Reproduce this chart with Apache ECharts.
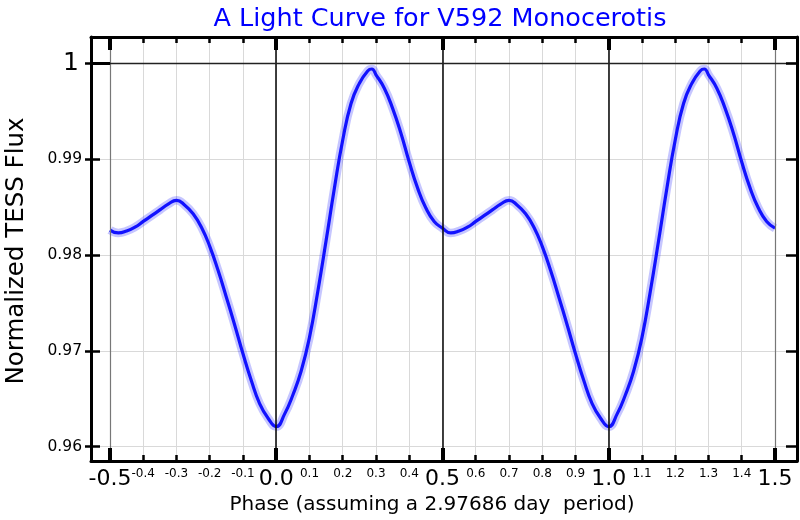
<!DOCTYPE html>
<html><head><meta charset="utf-8">
<script src="https://cdn.jsdelivr.net/npm/echarts@6/dist/echarts.min.js"></script>
<style>html,body{margin:0;padding:0;background:#fff}#c{width:800px;height:520px}</style>
</head><body><div id="c"></div>
<script>
// one folded cycle of the light curve (phase, normalized flux)
const phases = [-0.5,-0.475,-0.45,-0.425,-0.4,-0.375,-0.35,-0.325,-0.3,-0.275,-0.25,-0.225,-0.2,-0.175,-0.15,-0.125,-0.1,-0.075,-0.05,-0.025,0,0.025,0.05,0.075,0.1,0.125,0.15,0.175,0.2,0.225,0.25,0.275,0.2875,0.3,0.325,0.35,0.375,0.4,0.425,0.45,0.475,0.5];
const flux = [0.9826,0.9823,0.9825,0.9829,0.9835,0.9841,0.9847,0.9853,0.9857,0.9852,0.9843,0.9829,0.9809,0.9784,0.9756,0.9727,0.9697,0.9669,0.9645,0.9630,0.9621,0.9634,0.9654,0.9679,0.9714,0.9762,0.9815,0.9870,0.9920,0.9958,0.9979,0.9992,0.9994,0.9988,0.9974,0.9953,0.9927,0.9897,0.9870,0.9849,0.9835,0.9828];
// the plot repeats the folded cycle shifted by whole periods
const cycleOffsets = [0, 1];
const majorXTicks = [-0.5, 0, 0.5, 1, 1.5];
const minorXTicks = [-0.4,-0.3,-0.2,-0.1,0.1,0.2,0.3,0.4,0.6,0.7,0.8,0.9,1.1,1.2,1.3,1.4];
const allXTicks = [-0.5,-0.4,-0.3,-0.2,-0.1,0,0.1,0.2,0.3,0.4,0.5,0.6,0.7,0.8,0.9,1,1.1,1.2,1.3,1.4,1.5];
const yTicks = [0.96, 0.97, 0.98, 0.99, 1];
const yMinorTicks = [0.96, 0.97, 0.98, 0.99];
const yMajorTicks = [1];
const darkXLines = [0, 0.5, 1];
const edgeXLines = [-0.5, 1.5];
const darkYLines = [1];
const titleText = 'A Light Curve for V592 Monocerotis';
const xName = 'Phase (assuming a 2.97686 day  period)';
const yName = 'Normalized TESS Flux';

const XMIN = -0.5571, XMAX = 1.5662, YMIN = 0.95851, YMAX = 1.00274;
const FONT = 'DejaVu Sans';

const curve = [];
cycleOffsets.forEach((off, k) => {
  phases.forEach((p, i) => {
    if (k > 0 && i === 0) return;
    curve.push([Math.round((p + off) * 10000) / 10000, flux[i]]);
  });
});

function xAx(pos, ticks, len, w, label, fs, margin, split, line, z) {
  return {
    type: 'value', position: pos, min: XMIN, max: XMAX, z: z,
    axisLine: { show: line, onZero: false, lineStyle: { color: '#000', width: 3 } },
    axisTick: { show: len > 0, inside: true, length: len, customValues: ticks, lineStyle: { color: '#000', width: w } },
    axisLabel: { show: label, customValues: ticks, fontSize: fs, fontFamily: FONT, color: '#000', margin: margin,
      formatter: v => (Math.round(v * 10) / 10).toFixed(1) },
    splitLine: { show: split, lineStyle: { color: '#d9d9d9', width: 1 } }
  };
}
function yAx(pos, ticks, len, w, inside, line) {
  return {
    type: 'value', position: pos, min: YMIN, max: YMAX, z: 10,
    axisLine: { show: line, onZero: false, lineStyle: { color: '#000', width: 3 } },
    axisTick: { show: true, inside: inside, length: len, customValues: ticks, lineStyle: { color: '#000', width: w } },
    axisLabel: { show: false, customValues: ticks }, splitLine: { show: false }
  };
}

const chart = echarts.init(document.getElementById('c'), null, { renderer: 'canvas' });
chart.setOption({
  animation: false,
  backgroundColor: '#fff',
  grid: { left: 91, right: 3, top: 37, bottom: 59 },
  xAxis: [
    xAx('bottom', majorXTicks, 13, 4, true, 22, 7, false, true, 10),
    xAx('bottom', minorXTicks, 6, 2.5, true, 12, 7, false, false, 10),
    xAx('top', majorXTicks, 13, 4, false, 11, 3, false, true, 10),
    xAx('top', minorXTicks, 6, 2.5, false, 11, 3, false, false, 10),
    xAx('bottom', allXTicks, 0, 0, false, 11, 3, true, false, 0)
  ],
  yAxis: [
    {
      type: 'value', position: 'left', min: YMIN, max: YMAX,
      axisLine: { show: true, onZero: false, lineStyle: { color: '#000', width: 3 } },
      axisTick: { show: true, inside: false, length: 6, customValues: yTicks, lineStyle: { color: '#000', width: 2.5 } },
      axisLabel: { show: true, customValues: yTicks, margin: 9, fontFamily: FONT, color: '#000',
        formatter: v => Math.abs(v - 1) < 1e-9 ? '{b|1}' : '{s|' + v.toFixed(2) + '}',
        rich: { b: { fontSize: 25, fontFamily: FONT, color: '#000', padding: [0, 3, 0, 0] }, s: { fontSize: 15.5, fontFamily: FONT, color: '#000' } } },
      splitLine: { show: true, lineStyle: { color: '#d9d9d9', width: 1 } }
    },
    yAx('left', yMinorTicks, 9, 2.5, true, false),
    yAx('left', yMajorTicks, 19, 3, true, false),
    yAx('right', yTicks, 11, 2.5, true, true)
  ],
  series: [
    {
      type: 'line', data: curve, smooth: true, showSymbol: false, silent: true, z: 2,
      lineStyle: { color: 'rgba(50,50,255,0.28)', width: 8.5 }
    },
    {
      type: 'line', data: curve, smooth: true, showSymbol: false, silent: true, z: 3,
      lineStyle: { color: '#1212ff', width: 3.2 }
    },
    {
      type: 'line', data: [], silent: true, z: 6,
      markLine: {
        silent: true, symbol: 'none', label: { show: false }, animation: false,
        data: [
          ...darkXLines.map(v => ({ xAxis: v, lineStyle: { color: '#111', width: 1.6, type: 'solid' } })),
          ...edgeXLines.map(v => ({ xAxis: v, lineStyle: { color: '#777', width: 1.2, type: 'solid' } })),
          ...darkYLines.map(v => ({ yAxis: v, lineStyle: { color: '#222', width: 1.3, type: 'solid' } }))
        ]
      }
    }
  ],
  graphic: [
    { type: 'text', x: 440, y: 19, style: { text: titleText, fontSize: 25.5, fontFamily: FONT, fill: '#0000ff', align: 'center', verticalAlign: 'middle' } },
    { type: 'text', x: 432, y: 505, style: { text: xName, fontSize: 20, fontFamily: FONT, fill: '#000', align: 'center', verticalAlign: 'middle' } },
    { type: 'text', x: 17, y: 251, rotation: Math.PI / 2, style: { text: yName, fontSize: 24.5, fontFamily: FONT, fill: '#000', align: 'center', verticalAlign: 'middle' } }
  ]
});
</script>
</body></html>
